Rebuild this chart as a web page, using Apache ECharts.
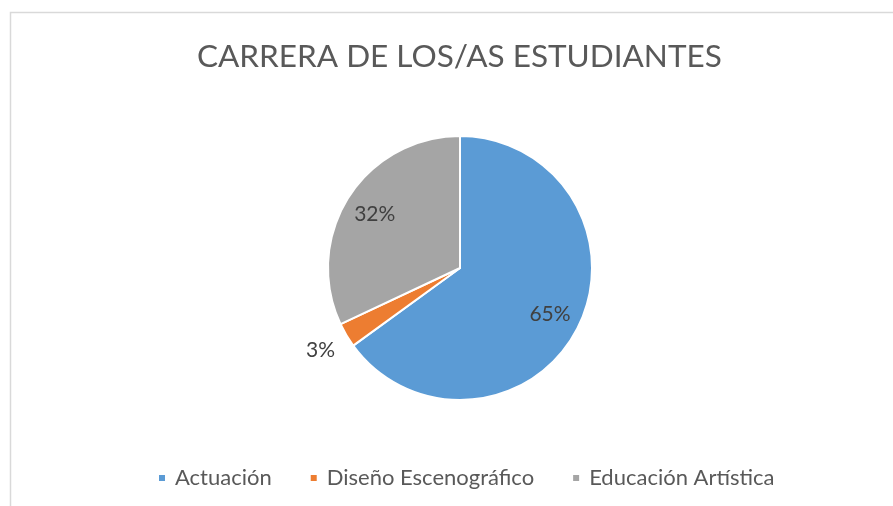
<!DOCTYPE html>
<html>
<head>
<meta charset="utf-8">
<script src="https://cdn.jsdelivr.net/npm/echarts@6/dist/echarts.min.js"></script>
<style>
  html, body { margin: 0; padding: 0; background: #fff; }
  #chart { width: 893px; height: 506px; }
</style>
</head>
<body>
<div id="chart"></div>
<script>
const titleText = 'CARRERA DE LOS/AS ESTUDIANTES'
const categories = ['Actuación', 'Diseño Escenográfico', 'Educación Artística']
const values = [65, 3, 32]
const colors = ['#5b9bd5', '#ed7d31', '#a5a5a5']

const font = 'Lato, "Open Sans", sans-serif'
const chart = echarts.init(document.getElementById('chart'))

// main slices
const sliceData = categories.map((name, i) => ({
  name,
  value: values[i],
  itemStyle: { color: colors[i] },
}))

// labels placed further out than the default midpoint, like the original
const innerLabelData = categories.map((name, i) => ({
  name,
  value: values[i],
  label: { show: i !== 1 },
}))
const outerLabelData = categories.map((name, i) => ({
  name,
  value: values[i],
  label: { show: i === 1 },
}))

const labelSeries = (radius, data) => ({
  type: 'pie',
  center: [460, 268],
  radius,
  startAngle: 90,
  clockwise: true,
  silent: true,
  avoidLabelOverlap: false,
  itemStyle: { color: 'rgba(0,0,0,0)' },
  label: {
    position: 'inside',
    formatter: (p) => p.value + '%',
    color: '#404040',
    fontSize: 21,
    fontFamily: font,
  },
  labelLine: { show: false },
  data,
  z: 5,
})

chart.setOption({
  animation: false,
  title: {
    text: titleText,
    left: 192,
    top: 36,
    textStyle: { color: '#595959', fontSize: 31.5, fontWeight: 'normal', fontFamily: font },
  },
  legend: {
    data: categories,
    top: 467,
    left: 157,
    padding: 0,
    icon: 'rect',
    itemWidth: 8,
    itemHeight: 8,
    itemGap: 37,
    textStyle: { color: '#595959', fontSize: 22, fontFamily: font, padding: [0, 0, 0, 4] },
  },
  graphic: [
    {
      type: 'rect',
      shape: { x: 10.5, y: 12.5, width: 900, height: 520 },
      style: { fill: 'none', stroke: '#d9d9d9', lineWidth: 1.5 },
      silent: true,
      z: -1,
    },
  ],
  series: [
    {
      type: 'pie',
      center: [460, 268],
      radius: [0, 132],
      startAngle: 90,
      clockwise: true,
      label: { show: false },
      labelLine: { show: false },
      itemStyle: { borderColor: '#fff', borderWidth: 2 },
      data: sliceData,
    },
    labelSeries([0, 196], innerLabelData),
    labelSeries([0, 318], outerLabelData),
  ],
})
</script>
</body>
</html>
